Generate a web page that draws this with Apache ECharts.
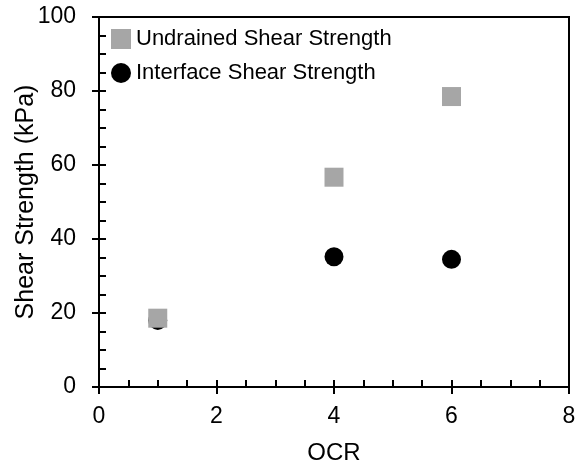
<!DOCTYPE html>
<html><head><meta charset="utf-8">
<script src="https://cdn.jsdelivr.net/npm/echarts@6/dist/echarts.min.js"></script>
<style>html,body{margin:0;padding:0;background:#fff}#c{width:582px;height:468px}</style>
</head><body><div id="c"></div>
<script>
const ocr = [1, 4, 6];
const undrained = [18.6, 56.7, 78.5];
const interfaceS = [18.0, 35.2, 34.5];
const xTicks = [0, 2, 4, 6, 8];
const yTicks = [0, 20, 40, 60, 80, 100];

const font = 'Arial, "Liberation Sans", sans-serif';
const chart = echarts.init(document.getElementById('c'));
const axLine = {show: true, lineStyle: {color: '#000', width: 2}};
chart.setOption({
  animation: false,
  grid: {left: 99, right: 13, top: 17, bottom: 81, containLabel: false, outerBoundsMode: 'none', show: true, borderColor: '#000', borderWidth: 2, backgroundColor: 'transparent'},
  legend: {
    orient: 'vertical', left: 106, top: 23, itemGap: 12, itemWidth: 20, itemHeight: 20,
    textStyle: {fontFamily: font, fontSize: 22, color: '#000'},
    data: ['Undrained Shear Strength', 'Interface Shear Strength']
  },
  xAxis: [{
    type: 'value', min: xTicks[0], max: xTicks[xTicks.length - 1], interval: 2,
    name: 'OCR', nameLocation: 'middle', nameGap: 54, nameMoveOverlap: false,
    nameTextStyle: {fontFamily: font, fontSize: 24, color: '#000'},
    axisLine: axLine, splitLine: {show: false},
    axisTick: {show: true, inside: false, length: 7, lineStyle: {color: '#000', width: 2}},
    axisLabel: {fontFamily: font, fontSize: 23, color: '#000', margin: 18}
  }, {
    type: 'value', min: xTicks[0], max: xTicks[xTicks.length - 1], interval: 2, position: 'bottom',
    axisLine: {show: false}, splitLine: {show: false}, axisLabel: {show: false},
    axisTick: {show: true, inside: true, length: 7, lineStyle: {color: '#000', width: 2}},
    minorTick: {show: true, splitNumber: 4, length: 7, lineStyle: {color: '#000', width: 2}}
  }],
  yAxis: [{
    type: 'value', min: yTicks[0], max: yTicks[yTicks.length - 1], interval: 20,
    name: 'Shear Strength (kPa)', nameLocation: 'middle', nameGap: 60, nameMoveOverlap: false,
    nameTextStyle: {fontFamily: font, fontSize: 25, color: '#000'},
    axisLine: axLine, splitLine: {show: false},
    axisTick: {show: true, inside: false, length: 7, lineStyle: {color: '#000', width: 2}},
    axisLabel: {fontFamily: font, fontSize: 23, color: '#000', margin: 23}
  }, {
    type: 'value', min: yTicks[0], max: yTicks[yTicks.length - 1], interval: 20, position: 'left', offset: 0,
    axisLine: {show: false}, splitLine: {show: false}, axisLabel: {show: false},
    axisTick: {show: true, inside: true, length: 7, lineStyle: {color: '#000', width: 2}},
    minorTick: {show: true, splitNumber: 4, length: 7, lineStyle: {color: '#000', width: 2}}
  }],
  series: [{
    name: 'Interface Shear Strength', type: 'scatter', symbol: 'circle', symbolSize: 19,
    itemStyle: {color: '#000', opacity: 1},
    data: ocr.map((x, i) => [x, interfaceS[i]])
  }, {
    name: 'Undrained Shear Strength', type: 'scatter', symbol: 'rect', symbolSize: 19,
    itemStyle: {color: '#a6a6a6', opacity: 1},
    data: ocr.map((x, i) => [x, undrained[i]])
  }]
});
</script></body></html>
